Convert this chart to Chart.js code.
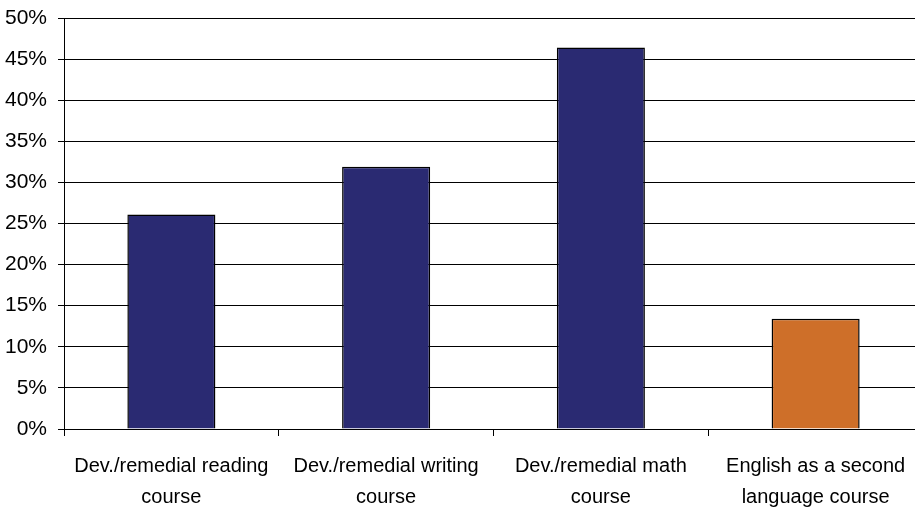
<!DOCTYPE html>
<html>
<head>
<meta charset="utf-8">
<script src="https://cdn.jsdelivr.net/npm/chart.js@4/dist/chart.umd.min.js"></script>
<style>
    html, body { margin: 0; padding: 0; background: #fff; overflow: hidden; }
    #wrap { width: 923px; height: 510px; }
</style>
</head>
<body>
<div id="wrap"><canvas id="chart"></canvas></div>
<script>
const categories = [
    ['Dev./remedial reading', 'course'],
    ['Dev./remedial writing', 'course'],
    ['Dev./remedial math', 'course'],
    ['English as a second', 'language course']
];
const percentages = [26.1, 31.9, 46.4, 13.4];
const barColors = ['#2a2a72', '#2a2a72', '#2a2a72', '#ce6f29'];
const yTicks = [0, 5, 10, 15, 20, 25, 30, 35, 40, 45, 50];

const labelFont = { family: '"Liberation Sans", Arial, sans-serif', size: 20, lineHeight: 1.55 };

new Chart(document.getElementById('chart'), {
    type: 'bar',
    data: {
        labels: categories,
        datasets: [{
            data: percentages,
            backgroundColor: barColors,
            borderColor: '#000',
            borderWidth: 1.5,
            barPercentage: 0.41,
            categoryPercentage: 1
        }]
    },
    options: {
        responsive: true,
        maintainAspectRatio: false,
        animation: false,
        layout: { padding: { top: 18, right: 0, left: 0, bottom: 0 } },
        plugins: { legend: { display: false }, tooltip: { enabled: false } },
        scales: {
            x: {
                grid: { drawOnChartArea: false, drawTicks: true, tickLength: 7, color: '#000', offset: true },
                border: { color: '#000', width: 1 },
                ticks: { color: '#000', font: labelFont, padding: 15, maxRotation: 0, autoSkip: false },
                afterFit: scale => { scale.height = 81; }
            },
            y: {
                min: 0,
                max: 50,
                afterBuildTicks: scale => { scale.ticks = yTicks.map(v => ({ value: v })); },
                grid: { color: '#000', lineWidth: 1, tickLength: 6 },
                border: { color: '#000', width: 1 },
                ticks: {
                    color: '#000',
                    font: { family: labelFont.family, size: 21 },
                    padding: 11,
                    callback: v => v + '%'
                },
                afterFit: scale => {
                    scale.width = 64;
                    scale.paddingTop = 0;
                    scale.paddingBottom = 0;
                }
            }
        }
    }
});
</script>
</body>
</html>
